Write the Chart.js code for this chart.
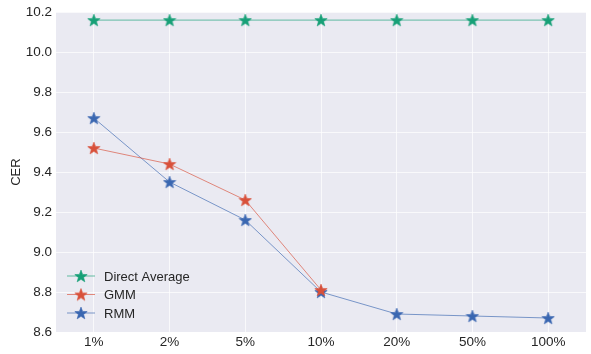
<!DOCTYPE html>
<html>
<head>
<meta charset="utf-8">
<script src="https://cdn.jsdelivr.net/npm/chart.js@4.4.1/dist/chart.umd.min.js"></script>
<style>
  html, body { margin: 0; padding: 0; background: #fff; }
  #wrap { width: 591px; height: 354px; }
</style>
</head>
<body>
<div id="wrap"><canvas id="myChart" width="591" height="354"></canvas></div>
<script>
// 데이터
const categories = ['1%', '2%', '5%', '10%', '20%', '50%', '100%'];
const directAvg = [10.16, 10.16, 10.16, 10.16, 10.16, 10.16, 10.16];
const gmm = [9.52, 9.44, 9.26, 8.81];
const rmm = [9.67, 9.35, 9.16, 8.80, 8.69, 8.68, 8.67];
const yTicks = [8.6, 8.8, 9.0, 9.2, 9.4, 9.6, 9.8, 10.0, 10.2];

const GREEN = '#17a077', RED = '#d8503a', BLUE = '#3a67b1';
const FONT = '"Liberation Sans", Arial, sans-serif';

// 채워진 별 모양 마커
function makeStar(color, size) {
  const c = document.createElement('canvas');
  c.width = size; c.height = size;
  const ctx = c.getContext('2d');
  const cx = size / 2, cy = size / 2 + 0.6;
  const R = size / 2 - 0.5, r = R * 0.42;
  ctx.beginPath();
  for (let i = 0; i < 10; i++) {
    const rad = i % 2 === 0 ? R : r;
    const a = -Math.PI / 2 + i * Math.PI / 5;
    const px = cx + rad * Math.cos(a), py = cy + rad * Math.sin(a);
    if (i === 0) ctx.moveTo(px, py); else ctx.lineTo(px, py);
  }
  ctx.closePath();
  ctx.fillStyle = color;
  ctx.fill();
  ctx.lineWidth = 0.6;
  ctx.strokeStyle = color;
  ctx.stroke();
  return c;
}
const STAR = 14;
const starG = makeStar(GREEN, STAR), starR = makeStar(RED, STAR), starB = makeStar(BLUE, STAR);

function alpha(hex, a) {
  const n = parseInt(hex.slice(1), 16);
  return `rgba(${n >> 16}, ${(n >> 8) & 255}, ${n & 255}, ${a})`;
}

// 배경 + 범례(차트 영역 안)
const bgLegend = {
  id: 'bgLegend',
  beforeDraw(chart) {
    const { ctx, chartArea: a } = chart;
    ctx.save();
    ctx.fillStyle = '#eaeaf2';
    ctx.fillRect(a.left, a.top, a.right - a.left, a.bottom - a.top);
    ctx.restore();
  },
  afterDraw(chart) {
    const { ctx, chartArea: a } = chart;
    const stars = [starG, starR, starB];
    ctx.save();
    ctx.font = '13px ' + FONT;
    ctx.textBaseline = 'middle';
    chart.data.datasets.forEach((ds, i) => {
      const y = a.bottom - 56 + i * 18.5;
      const x0 = a.left + 11;
      ctx.strokeStyle = ds.borderColor;
      ctx.lineWidth = 1;
      ctx.beginPath();
      ctx.moveTo(x0, y); ctx.lineTo(x0 + 28, y); ctx.stroke();
      ctx.drawImage(stars[i], x0 + 14 - STAR / 2, y - STAR / 2);
      ctx.fillStyle = '#262626';
      ctx.fillText(ds.label, x0 + 37, y + 1);
    });
    ctx.restore();
  }
};

new Chart(document.getElementById('myChart').getContext('2d'), {
  type: 'line',
  data: {
    labels: categories,
    datasets: [
      { label: 'Direct Average', data: directAvg, borderColor: alpha(GREEN, 0.65), pointStyle: starG },
      { label: 'GMM', data: gmm, borderColor: alpha(RED, 0.65), pointStyle: starR },
      { label: 'RMM', data: rmm, borderColor: alpha(BLUE, 0.65), pointStyle: starB }
    ].map(d => Object.assign(d, { borderWidth: 1, tension: 0, fill: false }))
  },
  options: {
    responsive: false,
    animation: false,
    layout: { padding: { top: 8, right: 1, left: 0, bottom: 0 } },
    plugins: { legend: { display: false }, tooltip: { enabled: false } },
    scales: {
      x: {
        offset: true,
        grid: { color: 'rgba(255,255,255,0.7)', lineWidth: 1, drawTicks: false, offset: false },
        border: { display: false },
        ticks: { color: '#262626', padding: 2, font: { size: 13.5, family: FONT } },
        afterFit(s) { s.height = 22; }
      },
      y: {
        min: 8.6,
        max: 10.2,
        afterBuildTicks(s) { s.ticks = yTicks.map(v => ({ value: v })); },
        grid: { color: 'rgba(255,255,255,0.7)', lineWidth: 1, drawTicks: false },
        border: { display: false },
        ticks: {
          color: '#262626', padding: 4,
          font: { size: 13.5, family: FONT },
          callback: v => v.toFixed(1)
        },
        title: { display: true, text: 'CER', color: '#262626', padding: { top: 9, bottom: 0 }, font: { size: 13, family: FONT } },
        afterFit(s) { s.width = 56; }
      }
    }
  },
  plugins: [bgLegend]
});
</script>
</body>
</html>
